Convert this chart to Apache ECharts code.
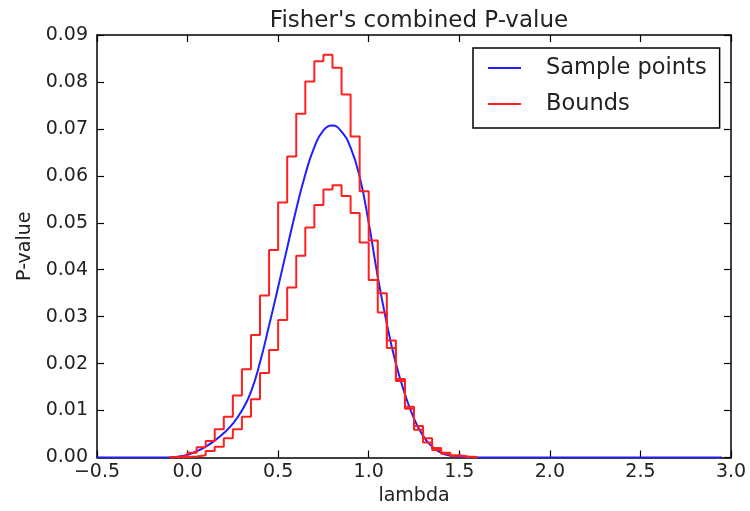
<!DOCTYPE html>
<html>
<head>
<meta charset="utf-8">
<script src="https://cdn.jsdelivr.net/npm/echarts@6/dist/echarts.min.js"></script>
<style>
  html, body { margin: 0; padding: 0; background: #fff; }
  #chart { width: 750px; height: 511px; }
</style>
</head>
<body>
<div id="chart"></div>
<script>
// sample points (blue curve)
var sampleLambda = [-0.50, -0.15, -0.10, -0.05, 0.00, 0.05, 0.10, 0.15, 0.20, 0.25, 0.30, 0.35,
    0.40, 0.45, 0.50, 0.55, 0.60, 0.65, 0.70, 0.75, 0.80, 0.85, 0.90, 0.95, 1.00, 1.05,
    1.10, 1.15, 1.20, 1.25, 1.30, 1.35, 1.40, 1.45, 1.50, 1.55, 1.60, 2.95];
var samplePValue = [0, 0, 0.0000, 0.0002, 0.0006, 0.0013, 0.0023, 0.0036, 0.0052, 0.0072, 0.0100, 0.0140,
    0.0203, 0.0281, 0.0363, 0.0447, 0.0529, 0.0603, 0.0661, 0.0697, 0.0707, 0.0694, 0.0660, 0.0598, 0.0500, 0.0385,
    0.0285, 0.0200, 0.0135, 0.0083, 0.0046, 0.0023, 0.0010, 0.0004, 0.0001, 0, 0, 0];

// bounds (histogram bins, left edges; last edge closes the last bin)
var binEdges = [-0.10, -0.05, 0.00, 0.05, 0.10, 0.15, 0.20, 0.25, 0.30, 0.35, 0.40, 0.45,
    0.50, 0.55, 0.60, 0.65, 0.70, 0.75, 0.80, 0.85, 0.90, 0.95, 1.00, 1.05, 1.10, 1.15,
    1.20, 1.25, 1.30, 1.35, 1.40, 1.45, 1.50, 1.55, 1.60];
var upperBound = [0.0001, 0.0004, 0.0010, 0.0022, 0.0035, 0.0060, 0.0087, 0.0132, 0.0188, 0.0261, 0.0345, 0.0442,
    0.0543, 0.0641, 0.0732, 0.0801, 0.0844, 0.0858, 0.0830, 0.0773, 0.0684, 0.0567, 0.0462, 0.0350, 0.0249, 0.0167,
    0.0108, 0.0067, 0.0041, 0.0020, 0.0010, 0.0005, 0.0002, 0.0001];
var lowerBound = [0.0000, 0.0001, 0.0002, 0.0005, 0.0014, 0.0023, 0.0041, 0.0060, 0.0087, 0.0124, 0.0180, 0.0229,
    0.0293, 0.0362, 0.0430, 0.0490, 0.0538, 0.0571, 0.0580, 0.0557, 0.0521, 0.0458, 0.0378, 0.0309, 0.0233, 0.0163,
    0.0104, 0.0059, 0.0032, 0.0016, 0.0008, 0.0003, 0.0001, 0.0000];

function pares(xs, ys) {
    var out = [];
    for (var i = 0; i < ys.length; i++) {
        out.push([xs[i], ys[i]]);
    }
    return out;
}

function degraus(edges, ys) {
    var out = pares(edges, ys);
    out.push([edges[ys.length], ys[ys.length - 1]]);
    return out;
}

var fonte = 'DejaVu Sans';
var corTexto = '#222';

var eixoBase = {
    type: 'value',
    splitLine: { show: false },
    axisLine: { show: true, onZero: false, lineStyle: { color: '#000', width: 1.5 } },
    axisTick: { show: true, inside: true, length: 7, lineStyle: { color: '#000', width: 1.2 } }
};

function eixo(extra) {
    return Object.assign({}, eixoBase, extra);
}

var chart = echarts.init(document.getElementById('chart'));

chart.setOption({
    backgroundColor: '#fff',
    animation: false,
    title: {
        text: "Fisher's combined P-value",
        left: 414,
        top: 5,
        textAlign: 'center',
        textStyle: { fontFamily: fonte, fontSize: 23, fontWeight: 'normal', color: corTexto }
    },
    legend: {
        data: ['Sample points', 'Bounds'],
        orient: 'vertical',
        left: 473,
        top: 48,
        padding: [8, 13, 12, 15],
        itemGap: 12,
        itemWidth: 33,
        itemHeight: 2,
        icon: 'rect',
        borderColor: '#000',
        borderWidth: 1.5,
        backgroundColor: '#fff',
        textStyle: { fontFamily: fonte, fontSize: 22.5, color: corTexto, lineHeight: 24, padding: [0, 0, 0, 20] }
    },
    grid: { left: 97, right: 19, top: 35, bottom: 53.5 },
    xAxis: [
        eixo({
            min: -0.5, max: 3.0, interval: 0.5,
            position: 'bottom',
            name: 'lambda',
            nameLocation: 'middle',
            nameGap: 27,
            nameTextStyle: { fontFamily: fonte, fontSize: 19, color: corTexto },
            axisLabel: {
                fontFamily: fonte, fontSize: 19, color: corTexto, margin: 5,
                formatter: function (v) { return v.toFixed(1).replace('-', '\u2212'); }
            }
        }),
        eixo({
            min: -0.5, max: 3.0, interval: 0.5,
            position: 'top',
            axisLabel: { show: false }
        })
    ],
    yAxis: [
        eixo({
            min: 0, max: 0.09, interval: 0.01,
            position: 'left',
            name: 'P-value',
            nameLocation: 'middle',
            nameGap: 62,
            nameTextStyle: { fontFamily: fonte, fontSize: 19, color: corTexto },
            axisLabel: {
                fontFamily: fonte, fontSize: 19, color: corTexto, margin: 9,
                formatter: function (v) { return v.toFixed(2); }
            }
        }),
        eixo({
            min: 0, max: 0.09, interval: 0.01,
            position: 'right',
            axisLabel: { show: false }
        })
    ],
    series: [
        {
            name: 'Sample points',
            type: 'line',
            data: pares(sampleLambda, samplePValue),
            symbol: 'none',
            smooth: 0.5,
            lineStyle: { color: '#1f1fff', width: 2 },
            itemStyle: { color: '#1f1fff' },
            z: 2
        },
        {
            name: 'Bounds',
            type: 'line',
            step: 'end',
            data: degraus(binEdges, upperBound),
            symbol: 'none',
            lineStyle: { color: '#ff1f1f', width: 2 },
            itemStyle: { color: '#ff1f1f' },
            z: 3
        },
        {
            name: 'Bounds',
            type: 'line',
            step: 'end',
            data: degraus(binEdges, lowerBound),
            symbol: 'none',
            lineStyle: { color: '#ff1f1f', width: 2 },
            itemStyle: { color: '#ff1f1f' },
            z: 3
        }
    ]
});
</script>
</body>
</html>
